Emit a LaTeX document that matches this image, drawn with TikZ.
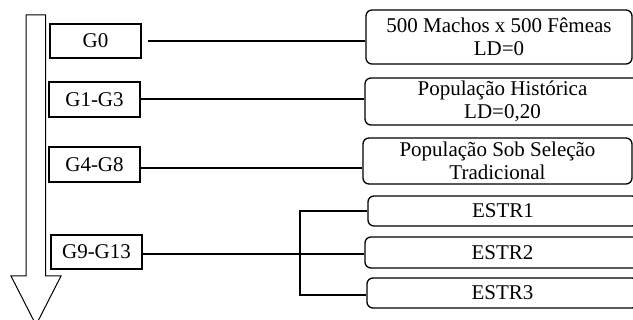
\documentclass[tikz,border=0pt]{standalone}
\usepackage{fontspec}
\setmainfont{Liberation Serif}
\begin{document}
\begin{tikzpicture}[x=1pt,y=-1pt,
  gbox/.style={draw,line width=1.3pt,minimum width=91pt,minimum height=34pt,inner sep=0pt,font=\fontsize{21}{23}\selectfont},
  rbox/.style={draw,line width=1.3pt,rounded corners=6pt,inner sep=0pt,align=center,font=\fontsize{21}{23}\selectfont},
  conn/.style={line width=1.4pt},
  bigarrow/.style={draw,line width=1pt,fill=white}]
\clip (0,0) rectangle (633,320);
\fill[white] (0,0) rectangle (633,320);
% big arrow
\draw[bigarrow] (26,15) -- (45.5,15) -- (45.5,276) -- (61,276) -- (36,325) -- (11,276) -- (26,276) -- cycle;
% generation boxes
\node[gbox] (g0) at (95.5,41) {G0};
\node[gbox,minimum height=35pt] (g1) at (94.5,99.5) {G1-G3};
\node[gbox,minimum height=35pt] (g4) at (94.5,164.5) {G4-G8};
\node[gbox] (g9) at (96.5,252) {G9-G13};
% right boxes
\node[rbox,minimum width=266pt,minimum height=54pt] (b1) at (499,37) {500 Machos x 500 Fêmeas\\LD=0};
\node[rbox,minimum width=275pt,minimum height=47pt] (b2) at (502.5,101.5) {População Histórica\\LD=0,20};
\node[rbox,minimum width=269pt,minimum height=46pt] (b3) at (497.5,161) {População Sob Seleção\\Tradicional};
\node[rbox,minimum width=270pt,minimum height=30pt] (e1) at (503,211) {ESTR1};
\node[rbox,minimum width=275pt,minimum height=31pt] (e2) at (502.5,252.5) {ESTR2};
\node[rbox,minimum width=271pt,minimum height=30pt] (e3) at (502.5,293) {ESTR3};
% connectors
\coordinate (br) at (300,254);
\draw[conn] ([xshift=6pt]g0.east |- 0,41) -- (b1.west |- 0,41);
\draw[conn] (g1.east |- 0,99) -- (b2.west |- 0,99);
\draw[conn] (g4.east |- 0,168) -- (b3.west |- 0,168);
\draw[conn] (g9.east |- 0,254) -- (e2.west |- 0,254);
\draw[conn] (e1.west) -- (br |- e1.west) -- (br |- 0,295) -- (e3.west |- 0,295);
\end{tikzpicture}
\end{document}
